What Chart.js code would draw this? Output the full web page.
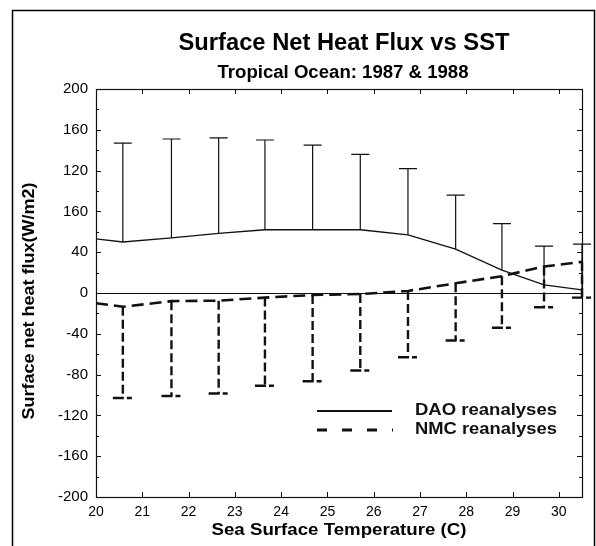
<!DOCTYPE html>
<html><head><meta charset="utf-8">
<script src="https://cdn.jsdelivr.net/npm/chart.js@4/dist/chart.umd.min.js"></script>
<style>html,body{margin:0;padding:0;background:#fff}#wrap{width:596px;height:546px;position:relative}</style>
</head><body><div id="wrap"><canvas id="c" width="596" height="546"></canvas></div>
<script>
// ---- data ----
const sst      = [20, 20.58, 21.63, 22.65, 23.65, 24.68, 25.71, 26.74, 27.77, 28.77, 29.68, 30.5];
const daoMean  = [53, 50, 54, 58.5, 62, 62, 62, 57, 43, 22.5, 8, 3];
const daoUpper = [null, 147, 151, 152, 150, 145, 136, 122, 96, 68, 46, 48];
const nmcMean  = [-10, -13.5, -8, -7.5, -4.5, -2, -1, 2, 9.5, 16.5, 26, 30.5];
const nmcLower = [null, -103, -101, -98.5, -91, -86.5, -76, -63, -46.5, -34, -14, -4.5];
const xTickValues = [20, 21, 22, 23, 24, 25, 26, 27, 28, 29, 30];
const yTickValues = [-200, -160, -120, -80, -40, 0, 40, 80, 120, 160, 200];
const yTickLabels = ['-200', '-160', '-120', '-80', '-40', '0', '40', '160', '120', '160', '200'];
const yMinorValues = [-180, -140, -100, -60, -20, 20, 60, 100, 140, 180];
const seriesNames = ['DAO reanalyses', 'NMC reanalyses'];
const titleText = 'Surface Net Heat Flux vs SST';
const subtitleText = 'Tropical Ocean: 1987 & 1988';
const xTitle = 'Sea Surface Temperature (C)';
const yTitle = 'Surface net heat flux(W/m2)';

const FONT = '"Liberation Sans", Arial, Helvetica, sans-serif';
const INK = '#111';

// draw bold text centred (or left-aligned) and stretched to a target width
function fitText(ctx, text, x, y, width, size, align) {
  ctx.save();
  ctx.font = 'bold ' + size + 'px ' + FONT;
  const w = ctx.measureText(text).width;
  const k = width / w;
  ctx.translate(x, y);
  ctx.scale(k, 1);
  ctx.textAlign = align || 'center';
  ctx.textBaseline = 'middle';
  ctx.fillText(text, 0, 0);
  ctx.restore();
}

const extras = {
  id: 'extras',
  afterDraw(chart) {
    const ctx = chart.ctx;
    const xs = chart.scales.x, ys = chart.scales.y;
    const a = chart.chartArea;
    ctx.save();
    ctx.strokeStyle = INK; ctx.fillStyle = INK;

    // plot box
    ctx.lineWidth = 1.2; ctx.setLineDash([]);
    ctx.strokeRect(Math.round(a.left) + 0.5, Math.round(a.top) + 0.5, Math.round(a.right - a.left), Math.round(a.bottom - a.top));

    // inward ticks
    ctx.lineWidth = 1;
    ctx.beginPath();
    xTickValues.forEach(v => {
      const px = Math.round(xs.getPixelForValue(v)) + 0.5;
      ctx.moveTo(px, a.bottom); ctx.lineTo(px, a.bottom - 5);
      ctx.moveTo(px, a.top); ctx.lineTo(px, a.top + 5);
    });
    yTickValues.forEach(v => {
      const py = Math.round(ys.getPixelForValue(v)) + 0.5;
      ctx.moveTo(a.left, py); ctx.lineTo(a.left + 5, py);
      ctx.moveTo(a.right, py); ctx.lineTo(a.right - 5, py);
    });
    yMinorValues.forEach(v => {
      const py = Math.round(ys.getPixelForValue(v)) + 0.5;
      ctx.moveTo(a.left, py); ctx.lineTo(a.left + 3, py);
      ctx.moveTo(a.right, py); ctx.lineTo(a.right - 3, py);
    });
    ctx.stroke();

    // DAO error bars (upward, solid)
    ctx.lineWidth = 1.2; ctx.setLineDash([]);
    sst.forEach((x, i) => {
      if (daoUpper[i] == null) return;
      const px = xs.getPixelForValue(x);
      const y0 = ys.getPixelForValue(daoMean[i]);
      const y1 = ys.getPixelForValue(daoUpper[i]);
      ctx.beginPath();
      ctx.moveTo(px, y0); ctx.lineTo(px, y1);
      ctx.moveTo(px - 9, y1); ctx.lineTo(px + 9, y1);
      ctx.stroke();
    });

    // NMC error bars (downward, dashed)
    ctx.lineWidth = 2.4;
    sst.forEach((x, i) => {
      if (nmcLower[i] == null) return;
      const px = xs.getPixelForValue(x);
      const y0 = ys.getPixelForValue(nmcMean[i]);
      const y1 = ys.getPixelForValue(nmcLower[i]);
      ctx.setLineDash([9, 4]);
      ctx.beginPath(); ctx.moveTo(px, y0); ctx.lineTo(px, y1); ctx.stroke();
      ctx.setLineDash([11, 3, 5, 100]);
      ctx.beginPath(); ctx.moveTo(px - 10, y1); ctx.lineTo(px + 10, y1); ctx.stroke();
    });

    // legend
    ctx.setLineDash([]);
    ctx.lineWidth = 2;
    ctx.beginPath(); ctx.moveTo(317, 411); ctx.lineTo(392, 411); ctx.stroke();
    ctx.lineWidth = 3;
    ctx.setLineDash([10, 15]);
    ctx.beginPath(); ctx.moveTo(317, 430); ctx.lineTo(393, 430); ctx.stroke();
    ctx.setLineDash([]);
    fitText(ctx, seriesNames[0], 415, 411, 142, 16, 'left');
    fitText(ctx, seriesNames[1], 415, 430, 142, 16, 'left');

    // titles
    ctx.fillStyle = '#000';
    fitText(ctx, titleText, 344, 44, 331, 23);
    fitText(ctx, subtitleText, 343, 73, 251, 18);
    fitText(ctx, xTitle, 339, 530, 255, 16.5);
    ctx.save();
    ctx.translate(29, 301);
    ctx.rotate(-Math.PI / 2);
    fitText(ctx, yTitle, 0, 0, 237, 16.5);
    ctx.restore();

    // figure frame
    ctx.lineWidth = 1.5; ctx.strokeStyle = '#000';
    ctx.beginPath();
    ctx.moveTo(12.5, 546); ctx.lineTo(12.5, 10.5); ctx.lineTo(594.5, 10.5); ctx.lineTo(594.5, 546);
    ctx.stroke();
    ctx.restore();
  }
};

new Chart(document.getElementById('c'), {
  type: 'line',
  data: {
    datasets: [
      {
        label: seriesNames[0],
        data: sst.map((x, i) => ({x, y: daoMean[i]})),
        borderColor: INK, borderWidth: 1.3, pointRadius: 0, tension: 0, fill: false
      },
      {
        label: seriesNames[1],
        data: sst.map((x, i) => ({x, y: nmcMean[i]})),
        borderColor: INK, borderWidth: 2.6, borderDash: [12, 6], pointRadius: 0, tension: 0, fill: false
      }
    ]
  },
  options: {
    responsive: false, animation: false,
    layout: { padding: { left: 12, right: 14, top: 89, bottom: 0 } },
    plugins: { legend: { display: false }, tooltip: { enabled: false }, title: { display: false } },
    scales: {
      x: {
        type: 'linear', min: 20, max: 30.5,
        afterBuildTicks: s => { s.ticks = xTickValues.map(v => ({value: v})); },
        afterFit: s => { s.height = 49; },
        grid: { drawOnChartArea: false, drawTicks: false },
        border: { display: false },
        ticks: { color: '#000', font: { family: FONT, size: 14 }, padding: 7, maxRotation: 0, autoSkip: false }
      },
      y: {
        type: 'linear', min: -200, max: 200,
        afterBuildTicks: s => { s.ticks = yTickValues.map(v => ({value: v})); },
        afterFit: s => { s.width = 84; },
        grid: { drawTicks: false, color: c => (c.tick && c.tick.value === 0) ? '#111' : 'rgba(0,0,0,0)', lineWidth: 1 },
        border: { display: false },
        ticks: { color: '#000', font: { family: FONT, size: 15 }, padding: 8, autoSkip: false,
                 callback: (v, i) => yTickLabels[i] }
      }
    }
  },
  plugins: [extras]
});
</script>
</body></html>
